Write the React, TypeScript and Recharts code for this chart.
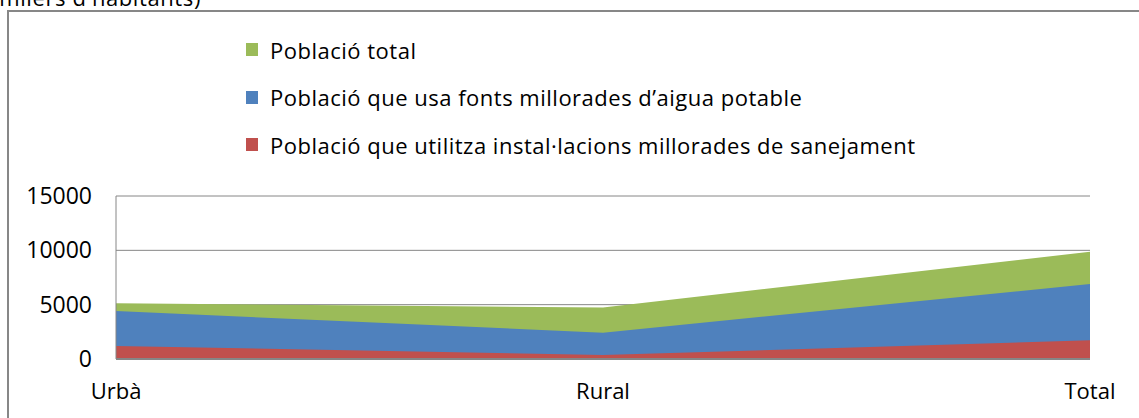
import React from 'react';
import { AreaChart, Area, XAxis, YAxis, CartesianGrid } from 'recharts';

const categories = ['Urbà', 'Rural', 'Total'];
const totalPopulation = [5130, 4740, 9870];
const waterPopulation = [4420, 2420, 6900];
const sanitationPopulation = [1200, 370, 1720];
const yTicks = [0, 5000, 10000, 15000];

const seriesKeys = ['total', 'water', 'sanitation'];
const seriesNames = [
  'Població total',
  'Població que usa fonts millorades d’aigua potable',
  'Població que utilitza instal·lacions millorades de sanejament',
];
const seriesColors = ['#9BBB59', '#4F81BD', '#C0504D'];

const data = categories.map((c, i) => ({
  name: c,
  total: totalPopulation[i],
  water: waterPopulation[i],
  sanitation: sanitationPopulation[i],
}));

const FONT = '"Open Sans", sans-serif';

export default function App() {
  return (
    <div style={{ position: 'absolute', left: 0, top: 0, width: 1139, height: 418, overflow: 'hidden', background: '#fff' }}>
      <div style={{ position: 'absolute', left: 0, top: 0 }}>
        <AreaChart width={1139} height={418} data={data} margin={{ top: 196, right: 49, bottom: 29, left: 0 }}>
          <CartesianGrid vertical={false} stroke="#868686" />
          <XAxis
            dataKey="name"
            height={30}
            interval={0}
            tickSize={0}
            tickMargin={24}
            axisLine={{ stroke: '#868686', strokeWidth: 2 }}
            tickLine={false}
            tick={{ fill: '#000', fontFamily: FONT, fontSize: 22 }}
          />
          <YAxis
            width={116}
            domain={[0, 15000]}
            ticks={yTicks}
            interval={0}
            tickSize={0}
            tickMargin={24}
            axisLine={{ stroke: '#868686' }}
            tickLine={false}
            tick={{ fill: '#000', fontFamily: FONT, fontSize: 23 }}
          />
          {seriesKeys.map((k, i) => (
            <Area
              key={k}
              type="linear"
              dataKey={k}
              name={seriesNames[i]}
              fill={seriesColors[i]}
              stroke="none"
              fillOpacity={1}
              isAnimationActive={false}
              dot={false}
              activeDot={false}
            />
          ))}
        </AreaChart>
      </div>
      <svg width={1139} height={30} style={{ position: 'absolute', left: 0, top: 0 }}>
        <text x={201} y={6} textAnchor="end" fontFamily={FONT} fontSize={22} letterSpacing={0.6} fill="#000">
          (milers d'habitants)
        </text>
      </svg>
      <div
        style={{
          position: 'absolute',
          left: 7,
          top: 10,
          width: 1200,
          height: 500,
          borderLeft: '2.5px solid #878787',
          borderTop: '2px solid #878787',
        }}
      />
      <div style={{ position: 'absolute', left: 246, top: 26, fontFamily: FONT, fontSize: 22, color: '#000' }}>
        {seriesNames.map((n, i) => (
          <div key={n} style={{ display: 'flex', alignItems: 'center', height: 47.6 }}>
            <span style={{ display: 'inline-block', width: 12, height: 13, background: seriesColors[i], marginRight: 12 }} />
            <span style={{ whiteSpace: 'nowrap', letterSpacing: 0.5 }}>{n}</span>
          </div>
        ))}
      </div>
    </div>
  );
}
